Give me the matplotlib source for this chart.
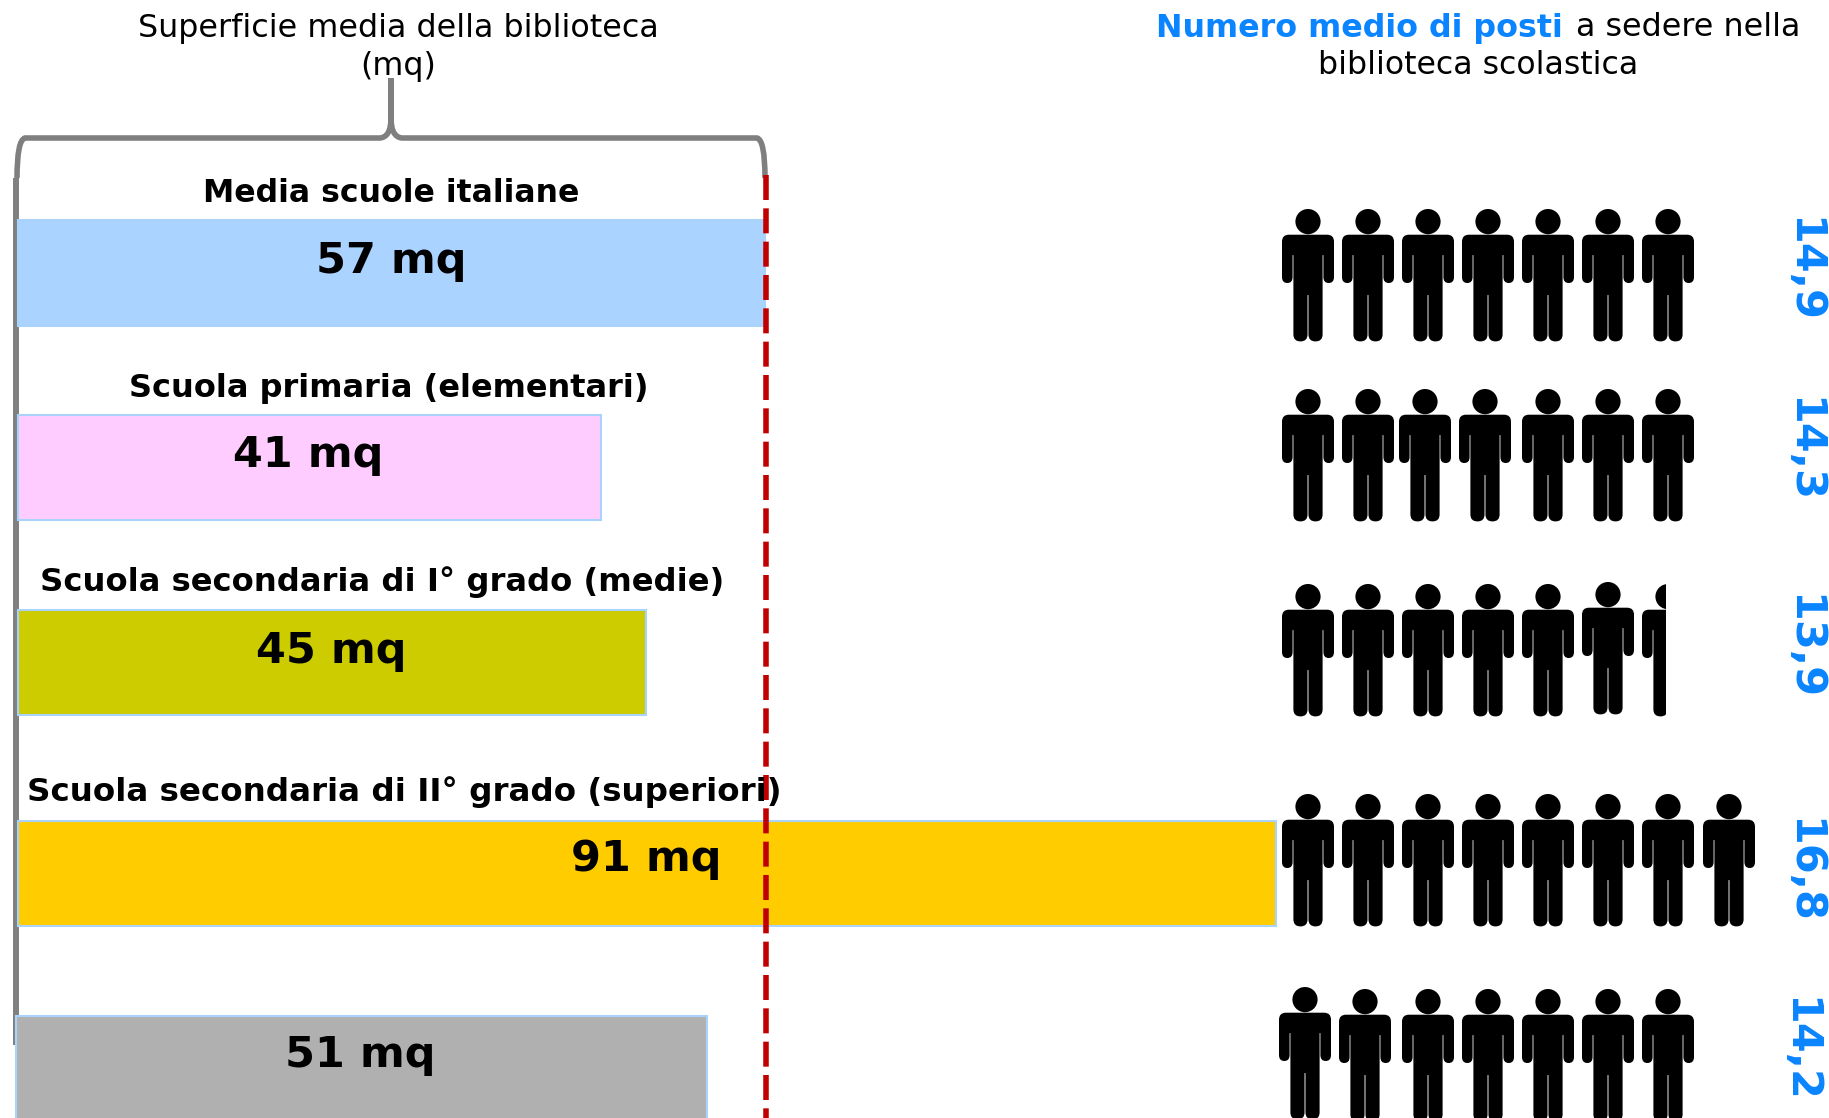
import matplotlib
matplotlib.use("Agg")
import matplotlib.pyplot as plt
from matplotlib.path import Path
from matplotlib.patches import PathPatch, Rectangle
import numpy as np

# the picture is an infographic: bar lengths are not proportional to the mq labels,
# so the axis is in picture units and lengths are read off the reference
schools = ["Media scuole italiane", "Scuola primaria (elementari)",
           "Scuola secondaria di I° grado (medie)",
           "Scuola secondaria di II° grado (superiori)", ""]
mq_labels = ["57 mq", "41 mq", "45 mq", "91 mq", "51 mq"]
bar_lengths = [747, 583, 628, 1258, 691]
seat_labels = ["14,9", "14,3", "13,9", "16,8", "14,2"]
bar_colors = ["#AAD4FF", "#FFCCFF", "#CCCC00", "#FFCC00", "#B0B0B0"]

bar_left = [18, 18, 18, 18, 16]
bar_top = [220, 415, 610, 821, 1016]
bar_bottom = [326, 520, 715, 926, 1140]
school_xy = [(391, 194), (389, 388), (382, 582.5), (404, 792)]
school_size = [22.7, 23, 23.2, 23.4]
mq_xy = [(391, 260.5), (308.5, 455.5), (331, 651), (646, 859.5), (360.5, 1055.5)]
seat_xy = [(1803, 270), (1803, 450), (1803, 647), (1803, 871), (1799, 1050)]

# icon columns of each row (x of the body axis) and the top of the heads
people_x = [
    [1308, 1368, 1428, 1488, 1548, 1608, 1668],
    [1308, 1368, 1425, 1485, 1548, 1608, 1668],
    [1308, 1368, 1428, 1488, 1548, 1608, 1668],
    [1308, 1368, 1428, 1488, 1548, 1608, 1668, 1729],
    [1305, 1365, 1428, 1488, 1548, 1608, 1668],
]
people_top = [
    [209] * 7,
    [389] * 7,
    [584, 584, 584, 584, 584, 582, 584],
    [794] * 8,
    [987, 989, 989, 989, 989, 989, 989],
]

BLUE = "#0A84FF"
GREY = "#7F7F7F"
RED = "#C00000"
FONT = "DejaVu Sans"


def rounded(points, radii):
    # closed outline with rounded corners
    verts, codes = [], []
    n = len(points)
    for i in range(n):
        p = np.array(points[i], float)
        a = np.array(points[i - 1], float)
        b = np.array(points[(i + 1) % n], float)
        r = radii[i]
        p1 = p + (a - p) / np.linalg.norm(a - p) * min(r, np.linalg.norm(a - p) / 2)
        p2 = p + (b - p) / np.linalg.norm(b - p) * min(r, np.linalg.norm(b - p) / 2)
        verts += [p1, p, p2]
        codes += [Path.MOVETO if i == 0 else Path.LINETO, Path.CURVE3, Path.CURVE3]
    verts.append(verts[0])
    codes.append(Path.CLOSEPOLY)
    return Path(verts, codes)


def person_path(cx, top):
    half = [(26, 25.7, 7), (26, 74, 6), (15.4, 74, 6), (15.4, 46, .4), (14.6, 46, .4),
            (14.6, 132.4, 7), (.45, 132.4, 7), (.45, 86, .4)]
    pts = [(cx + x, top + y) for x, y, r in half]
    rad = [r for x, y, r in half]
    pts += [(cx - x, top + y) for x, y, r in reversed(half)]
    rad += [r for x, y, r in reversed(half)]
    body = rounded(pts, rad)
    head = Path.circle((cx, top + 12.6), 12.6)
    return Path.make_compound_path(body, head)


fig = plt.figure(figsize=(18.29, 11.18), dpi=100)
ax = fig.add_axes([0, 0, 1, 1])
ax.set_xlim(0, 1829)
ax.set_ylim(1118, 0)
ax.axis("off")

# bars
heights = [b - t for t, b in zip(bar_top, bar_bottom)]
centers = [(t + b) / 2 for t, b in zip(bar_top, bar_bottom)]
ax.barh(centers, bar_lengths, height=heights, left=bar_left, color=bar_colors,
        edgecolor="#A9D3FB", linewidth=1.5, zorder=3)

# grey brace and left rule
ax.plot([16, 16], [178, 1045], color="#808080", lw=4.3, solid_capstyle="butt", zorder=2)
brace = Path(
    [(17, 178), (17, 140), (25, 138), (380, 138), (391, 137), (391, 118), (391, 78),
     (391, 118), (391, 137), (402, 138), (757, 138), (765, 140), (765, 178)],
    [Path.MOVETO, Path.CURVE3, Path.CURVE3, Path.LINETO, Path.CURVE3, Path.CURVE3, Path.LINETO,
     Path.LINETO, Path.CURVE3, Path.CURVE3, Path.LINETO, Path.CURVE3, Path.CURVE3])
ax.add_patch(PathPatch(brace, fill=False, edgecolor=GREY, lw=4, zorder=2))

# red reference line
ax.plot([766, 766], [175, 1118], color=RED, lw=4, linestyle=(0, (4.5, 1.5)),
        dash_capstyle="butt", zorder=4)

# people
for row_x, row_top in zip(people_x, people_top):
    for cx, top in zip(row_x, row_top):
        patch = PathPatch(person_path(cx, top), facecolor="black", edgecolor="none", zorder=3)
        ax.add_patch(patch)
        if row_top is people_top[2] and cx == row_x[-1]:
            patch.set_clip_path(Rectangle((1270, 570), 395.6, 160, transform=ax.transData))

# text
for name, size, (x, y) in zip(schools, school_size, school_xy):
    ax.text(x, y, name, ha="center", va="center", fontsize=size, fontweight="bold",
            family=FONT, color="black", zorder=5)
for lab, (x, y) in zip(mq_labels, mq_xy):
    ax.text(x, y, lab, ha="center", va="center", fontsize=31, fontweight="bold",
            family=FONT, color="black", zorder=5)
for lab, (x, y) in zip(seat_labels, seat_xy):
    ax.text(x, y, lab, ha="center", va="center", rotation=-90, fontsize=31,
            fontweight="bold", family=FONT, color=BLUE, zorder=5)

ax.text(398, 29, "Superficie media della biblioteca", ha="center", va="center",
        fontsize=22.9, family=FONT, color="black")
ax.text(398, 66, "(mq)", ha="center", va="center", fontsize=22.9, family=FONT, color="black")
ax.text(1156, 28, "Numero medio di posti", ha="left", va="center", fontsize=22.9,
        fontweight="bold", family=FONT, color=BLUE)
ax.text(1800, 28, "a sedere nella", ha="right", va="center", fontsize=22.9,
        family=FONT, color="black")
ax.text(1478, 66, "biblioteca scolastica", ha="center", va="center", fontsize=22.7,
        family=FONT, color="black")

plt.savefig("out.png", dpi=100)
